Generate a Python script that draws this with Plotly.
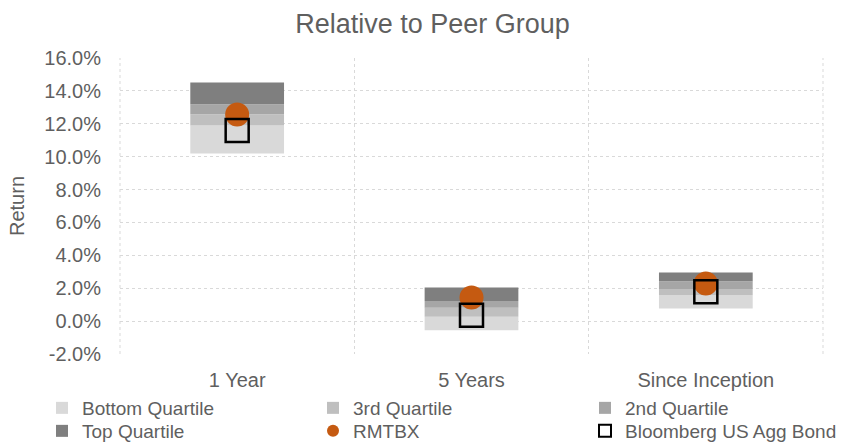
import plotly.graph_objects as go

categories = ["1 Year", "5 Years", "Since Inception"]
bottom_low = [10.19, -0.55, 0.77]
q3_low = [11.90, 0.26, 1.58]
q2_low = [12.58, 0.81, 1.96]
top_low = [13.19, 1.23, 2.43]
top_high = [14.51, 2.05, 2.96]
rmtbx = [12.56, 1.44, 2.29]
bbg = [11.59, 0.36, 1.78]
y_ticks = [-2, 0, 2, 4, 6, 8, 10, 12, 14, 16]

GRAY = "#5f5f5f"
W, H = 865, 442
fig = go.Figure()

bands = [
    ("Bottom Quartile", bottom_low, q3_low, "#d9d9d9", "legend"),
    ("3rd Quartile", q3_low, q2_low, "#bfbfbf", "legend2"),
    ("2nd Quartile", q2_low, top_low, "#a6a6a6", "legend3"),
    ("Top Quartile", top_low, top_high, "#7f7f7f", "legend4"),
]
for name, lo, hi, col, lg in bands:
    fig.add_trace(go.Bar(
        x=categories, base=lo, y=[h - l for l, h in zip(lo, hi)],
        name=name, marker=dict(color=col, line=dict(width=0)),
        width=0.4, legend=lg,
    ))

fig.add_trace(go.Scatter(
    x=categories, y=rmtbx, mode="markers", name="RMTBX", legend="legend5",
    marker=dict(symbol="circle", size=24, color="#c55a11"),
))
fig.add_trace(go.Scatter(
    x=categories, y=bbg, mode="markers", name="Bloomberg US Agg Bond", legend="legend6",
    marker=dict(symbol="square-open", size=23, color="#000000", line=dict(width=2.5)),
))


def leg(px, py):
    return dict(
        orientation="h", xref="container", yref="container",
        x=px / W, y=1 - py / H, xanchor="left", yanchor="middle",
        font=dict(family="Liberation Sans, Arial", size=19, color=GRAY),
        itemsizing="constant", bgcolor="rgba(0,0,0,0)", borderwidth=0,
        itemclick=False, itemdoubleclick=False,
    )


col_x = [42, 313, 585]
row_y = [408, 431]

fig.update_layout(
    width=W, height=H,
    margin=dict(l=120, r=42, t=58, b=88, autoexpand=False),
    paper_bgcolor="white", plot_bgcolor="white",
    barmode="overlay",
    font=dict(family="Liberation Sans, Arial", color=GRAY),
    title=dict(text="Relative to Peer Group", x=0.5, xanchor="center",
               y=1 - 24 / H, yanchor="middle", font=dict(size=27, color=GRAY)),
    legend=leg(col_x[0], row_y[0]),
    legend2=leg(col_x[1], row_y[0]),
    legend3=leg(col_x[2], row_y[0]),
    legend4=leg(col_x[0], row_y[1]),
    legend5=leg(col_x[1], row_y[1]),
    legend6=leg(col_x[2], row_y[1]),
    showlegend=True,
    shapes=[
        dict(type="line", xref="paper", yref="paper", x0=0, x1=0, y0=0, y1=1,
             line=dict(color="#d9d9d9", width=1, dash="dot"), layer="below"),
        dict(type="line", xref="paper", yref="paper", x0=1, x1=1, y0=0, y1=1,
             line=dict(color="#d9d9d9", width=1, dash="dot"), layer="below"),
    ],
)
fig.update_yaxes(
    range=[-2, 16], tickvals=y_ticks, ticktext=[f"{v:.1f}%" for v in y_ticks],
    showgrid=True, gridcolor="#d9d9d9", griddash="dot", gridwidth=1,
    zeroline=False, showline=False, tickfont=dict(size=20, color=GRAY),
    ticklabelstandoff=18,
    title=dict(text="Return", font=dict(size=20, color=GRAY), standoff=14),
    ticks="",
)
fig.update_xaxes(
    type="category", tickson="boundaries", showgrid=True, gridcolor="#d9d9d9",
    griddash="dot", gridwidth=1, showline=False, zeroline=False,
    tickfont=dict(size=20, color=GRAY), ticks="", range=[-0.5, 2.5],
    ticklabelstandoff=12,
)

fig.write_html("out.html", config={"displayModeBar": False},
               post_script="document.body.style.margin='0';")
